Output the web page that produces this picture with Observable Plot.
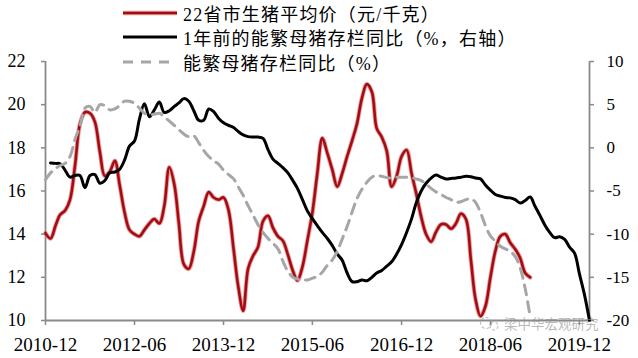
<!DOCTYPE html>
<html><head><meta charset="utf-8">
<script src="https://cdn.jsdelivr.net/npm/d3@7"></script>
<script src="https://cdn.jsdelivr.net/npm/@observablehq/plot@0.6"></script>
<style>
html,body{margin:0;padding:0;background:#fff;}
#wrap{position:relative;width:638px;height:358px;overflow:hidden;background:#fff;}
#wrap > svg{position:absolute;left:0;top:0;}
.lg{position:absolute;left:123px;height:24px;display:flex;align-items:center;font-family:"Liberation Serif","Noto Sans CJK SC",serif;font-size:18px;letter-spacing:1.2px;color:#000;white-space:nowrap;}
.lg svg{margin-right:6px;}
.wm{position:absolute;left:478px;top:316px;height:15px;display:flex;align-items:center;font-family:"Noto Sans CJK SC",sans-serif;font-size:13.5px;line-height:15px;color:rgba(140,140,140,0.6);white-space:nowrap;}
</style></head><body><div id="wrap"></div>
<script>
// ---- data ----
const seriesNames = ["22省市生猪平均价（元/千克）", "1年前的能繁母猪存栏同比（%，右轴）", "能繁母猪存栏同比（%）"];
const xTickLabels = ["2010-12", "2012-06", "2013-12", "2015-06", "2016-12", "2018-06", "2019-12"];
const leftTicks = [10, 12, 14, 16, 18, 20, 22];
const rightTicks = [-20, -15, -10, -5, 0, 5, 10];
const axisStart = "2010-12";
const axisEnd = "2020-02";

// 22省市生猪平均价, monthly from 2010-12
const priceStart = "2010-12";
const price = [14.05, 13.8, 14.4, 14.9, 15.1, 15.6, 17.2, 19.1, 19.65, 19.6,
  19.2, 17.8, 16.7, 16.9, 17.4, 16.3, 15.0, 14.2, 14.0, 13.9,
  14.2, 14.5, 14.7, 14.5, 15.3, 17.1, 16.3, 14.5, 12.6, 12.4,
  13.2, 14.6, 15.3, 15.95, 15.7, 15.6, 15.7, 15.1, 13.3, 11.6,
  10.45, 12.4, 13.0, 13.4, 14.6, 14.85, 14.3, 13.9, 13.7, 13.05,
  12.3, 11.85, 12.5, 13.7, 15.0, 16.8, 18.45, 17.75, 17.0, 16.2,
  16.8, 17.6, 18.35, 19.1, 20.3, 20.95, 20.6, 18.9, 18.5, 17.85,
  16.2, 16.7, 17.6, 17.9, 16.8, 15.9, 14.8, 14.0, 13.65, 14.1,
  14.45, 14.45, 14.25, 14.5, 14.95, 14.7, 12.8, 11.0, 10.2, 10.65,
  12.0, 13.2, 13.9, 14.0, 13.6, 13.3, 12.9, 12.2, 12.0];

// 1年前的能繁母猪存栏同比 (%), monthly from 2011-01
const sowLagStart = "2011-01";
const sowLag = [-1.75, -1.8, -1.85, -2.6, -3.4, -3.2, -3.2, -4.6, -3.2, -3.1,
  -4.1, -3.8, -2.9, -2.8, -2.5, -1.4, 0.2, 0.8, 3.3, 5.1,
  3.6, 4.4, 5.3, 4.1, 4.3, 4.8, 5.2, 5.7, 5.4, 4.3,
  3.2, 3.2, 4.5, 4.2, 3.4, 2.9, 2.6, 2.35, 1.9, 1.5,
  1.3, 1.25, 1.25, 1.1, -0.2, -1.3, -1.8, -2.3, -2.9, -3.8,
  -4.7, -6.0, -7.3, -8.2, -9.0, -9.8, -10.5, -11.3, -12.3, -13.0,
  -14.5, -15.5, -15.5, -15.3, -15.4, -15.0, -14.5, -14.2, -13.7, -13.2,
  -12.3, -11.2, -9.8, -8.2, -6.4, -5.0, -4.1, -3.5, -3.15, -3.4,
  -3.6, -3.55, -3.5, -3.4, -3.3, -3.35, -3.5, -3.6, -4.3, -4.9,
  -5.4, -5.6, -5.75, -5.8, -6.0, -6.4, -6.1, -5.7, -6.7, -7.8,
  -8.9, -9.8, -10.4, -10.3, -10.6, -11.5, -12.2, -14.6, -17.0, -20.0];

// 能繁母猪存栏同比 (%), monthly from 2010-12
const sowStart = "2010-12";
const sow = [-3.7, -2.9, -2.4, -2.05, -1.8, -1.0, 1.0, 2.5, 4.6, 4.8,
  4.1, 5.0, 4.9, 4.4, 4.5, 4.9, 5.4, 5.4, 5.15, 4.6,
  4.0, 3.85, 3.9, 4.0, 3.6, 3.1, 2.6, 2.1, 1.6, 1.3,
  1.4, 0.6, -0.3, -1.0, -1.5, -1.9, -2.6, -3.1, -3.6, -4.5,
  -5.5, -6.7, -7.8, -8.9, -9.8, -10.5, -11.05, -11.7, -13.1, -14.3,
  -15.0, -15.2, -15.3, -15.3, -15.1, -14.9, -14.4, -13.6, -13.0, -12.0,
  -10.6, -9.1, -7.4, -5.9, -4.8, -4.0, -3.4, -3.2, -3.3, -3.45,
  -3.5, -3.4, -3.4, -3.4, -3.45, -3.6, -3.8, -4.2, -4.7, -5.1,
  -5.4, -5.75, -6.0, -6.3, -6.25, -6.0, -5.9, -6.3, -7.5, -9.0,
  -10.2, -10.8, -11.4, -11.7, -12.0, -12.6, -13.9, -16.3, -19.6];

// ---- helpers ----
const parseMonth = d3.utcParse("%Y-%m");
const fmtMonth = d3.utcFormat("%Y-%m");
const series = (start, values) => values.map((v, i) => ({date: d3.utcMonth.offset(parseMonth(start), i), v}));
// map right-axis values (-20..10) onto left scale (10..22)
const toLeft = r => 10 + (r + 20) * 12 / 30;
const fromLeft = l => Math.round((l - 10) * 30 / 12 - 20);

const priceData = series(priceStart, price);
const sowLagData = series(sowLagStart, sowLag);
const sowData = series(sowStart, sow);
const x0 = parseMonth(axisStart), x1 = parseMonth(axisEnd);
const axisColor = "#8a8a8a";
const serif = "'Liberation Serif','Times New Roman',serif";

const chart = Plot.plot({
  width: 638, height: 358,
  marginTop: 61, marginBottom: 38, marginLeft: 45, marginRight: 49,
  x: {type: "utc", domain: [x0, x1]},
  y: {domain: [10, 22]},
  style: {fontFamily: serif, fontSize: "18px", color: "#000", background: "transparent", overflow: "visible"},
  marks: [
    Plot.axisY(leftTicks, {anchor: "left", tickSize: 4, tickPadding: 16, stroke: axisColor, strokeWidth: 1.5, fill: "#000", label: null, fontSize: 18, fontFamily: serif}),
    Plot.axisY(rightTicks.map(toLeft), {anchor: "right", tickSize: 4, tickPadding: 13, stroke: axisColor, strokeWidth: 1.5, fill: "#000", label: null, fontSize: 17, fontFamily: serif, tickFormat: v => String(fromLeft(v))}),
    Plot.axisX(xTickLabels.map(parseMonth), {anchor: "bottom", tickSize: 5, tickPadding: 12, stroke: axisColor, strokeWidth: 1.5, fill: "#000", label: null, fontSize: 19, fontFamily: serif, tickFormat: fmtMonth}),
    Plot.ruleX([x0, x1], {stroke: axisColor, strokeWidth: 1.8}),
    Plot.ruleY([10], {stroke: axisColor, strokeWidth: 1.8}),
    Plot.line(priceData, {x: "date", y: "v", stroke: "#e04848", strokeOpacity: 0.55, strokeWidth: 4.4, curve: "catmull-rom"}),
    Plot.line(priceData, {x: "date", y: "v", stroke: "#a00d14", strokeWidth: 2.6, curve: "catmull-rom"}),
    Plot.line(sowLagData, {x: "date", y: d => toLeft(d.v), stroke: "#000", strokeWidth: 3, curve: "catmull-rom"}),
    Plot.line(sowData, {x: "date", y: d => toLeft(d.v), stroke: "#a6a6a6", strokeWidth: 3, strokeDasharray: "10,7", curve: "catmull-rom"})
  ]
});

const wrap = document.getElementById("wrap");
wrap.appendChild(chart);

// legend
const legendStyles = [
  {stroke: "#a00d14", dash: null, glow: true},
  {stroke: "#000", dash: null, glow: false},
  {stroke: "#a6a6a6", dash: "10,8", glow: false}
];
const legendTops = [1, 25, 50];
seriesNames.forEach((name, i) => {
  const row = document.createElement("div");
  row.className = "lg";
  row.style.top = legendTops[i] + "px";
  const st = legendStyles[i];
  row.innerHTML =
    `<svg width="54" height="8">` +
    (st.glow ? `<line x1="0" y1="4" x2="54" y2="4" stroke="#e04848" stroke-opacity="0.55" stroke-width="4.4"/>` : "") +
    `<line x1="0" y1="4" x2="54" y2="4" stroke="${st.stroke}" stroke-width="${st.glow ? 2.6 : 3}"${st.dash ? ` stroke-dasharray="${st.dash}"` : ""}/></svg>` +
    `<span>${name}</span>`;
  wrap.appendChild(row);
});

// watermark
const wm = document.createElement("div");
wm.className = "wm";
wm.innerHTML = `<svg width="24" height="15" style="margin-right:2px"><circle cx="8" cy="7" r="5.5" fill="none" stroke="rgba(150,150,150,0.6)" stroke-width="1.2" stroke-dasharray="3,2"/><circle cx="16" cy="10" r="4" fill="none" stroke="rgba(150,150,150,0.6)" stroke-width="1.2" stroke-dasharray="3,2"/></svg><span>梁中华宏观研究</span>`;
wrap.appendChild(wm);
</script>
</body></html>
